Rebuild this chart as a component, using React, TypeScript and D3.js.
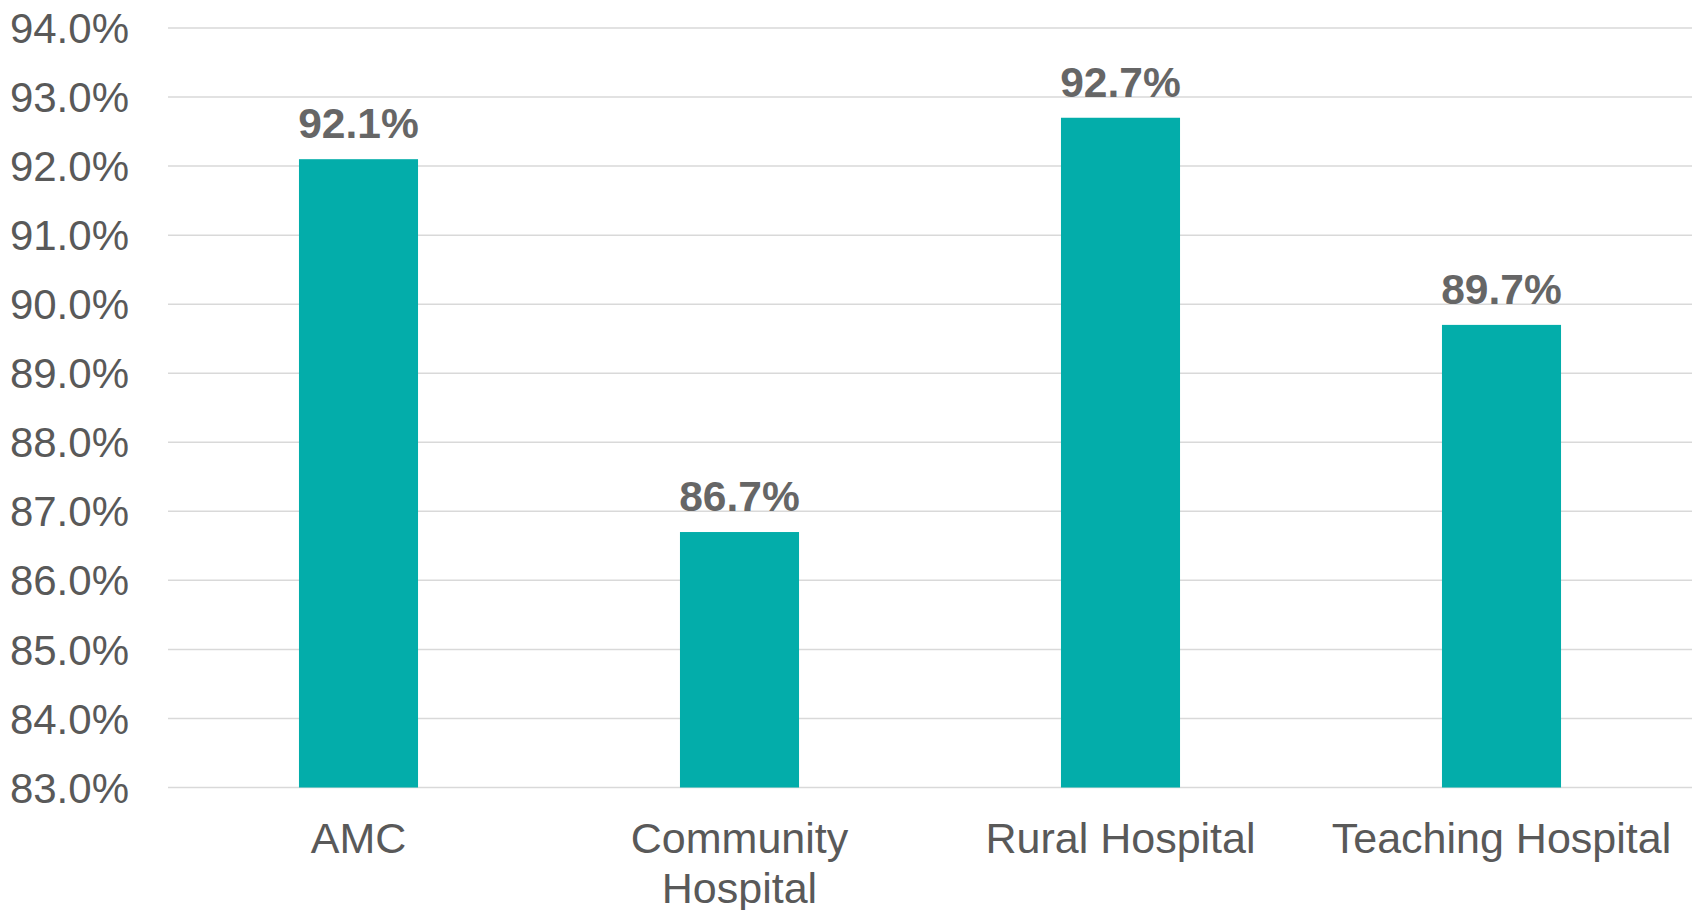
import React from "react";
import * as d3 from "d3";

const categories = ["AMC", "Community\nHospital", "Rural Hospital", "Teaching Hospital"];
const values = [92.1, 86.7, 92.7, 89.7];
const yTicks = [83, 84, 85, 86, 87, 88, 89, 90, 91, 92, 93, 94];

const W = 1696;
const H = 910;
const FONT = "'Liberation Sans', Arial, sans-serif";

export default function App() {
  const x = d3
    .scaleBand<string>()
    .domain(categories)
    .range([168, 1692])
    .paddingInner(0.6875)
    .paddingOuter(0.34375);
  const y = d3.scaleLinear().domain([83, 94]).range([787.5, 28]);

  return (
    <svg
      width={W}
      height={H}
      style={{ position: "absolute", left: 0, top: 0, background: "#fff" }}
      fontFamily={FONT}
    >
      {yTicks.map((t) => (
        <g key={t}>
          <line x1={168} x2={1692} y1={y(t)} y2={y(t)} stroke="#D9D9D9" strokeWidth={1.5} />
          <text
            x={129}
            y={y(t)}
            dy="0.36em"
            textAnchor="end"
            fontSize={42}
            fill="#595959"
          >
            {t.toFixed(1) + "%"}
          </text>
        </g>
      ))}
      {categories.map((c, i) => {
        const bx = x(c)!;
        const bw = x.bandwidth();
        const cx = bx + bw / 2;
        const lines = c.split("\n");
        return (
          <g key={c}>
            <rect x={bx} y={y(values[i])} width={bw} height={y(83) - y(values[i])} fill="#03ADAA" />
            <text
              x={cx}
              y={y(values[i]) - 21}
              textAnchor="middle"
              fontSize={42.5}
              fontWeight="bold"
              fill="#666666"
            >
              {values[i].toFixed(1) + "%"}
            </text>
            {lines.map((l, j) => (
              <text
                key={j}
                x={cx}
                y={853 + j * 50}
                textAnchor="middle"
                fontSize={43}
                fill="#595959"
              >
                {l}
              </text>
            ))}
          </g>
        );
      })}
    </svg>
  );
}
